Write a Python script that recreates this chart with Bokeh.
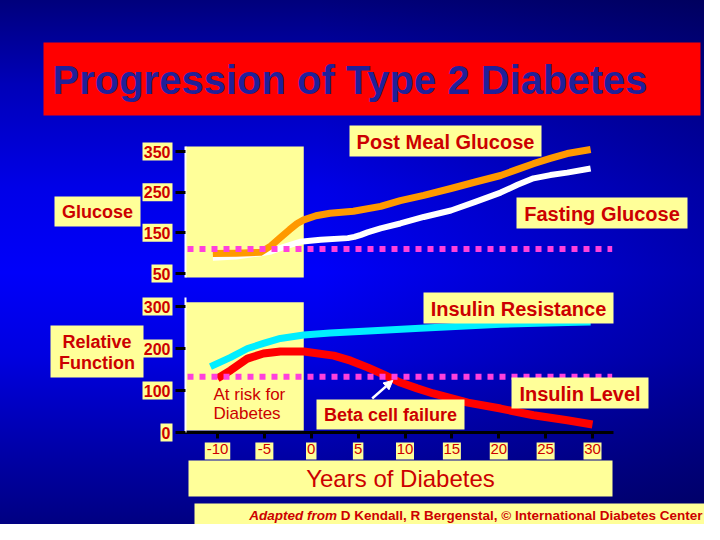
from bokeh.plotting import figure
from bokeh.layouts import column
from bokeh.models import (Range1d, FixedTicker, Label, BoxAnnotation, Arrow, NormalHead,
                          LinearAxis)
from bokeh.embed import file_html
from bokeh.resources import INLINE

# ------------------------------------------------------------------ data
year_ticks = [-10, -5, 0, 5, 10, 15, 20, 25, 30]
glucose_ticks = [50, 150, 250, 350]
function_ticks = [0, 100, 200, 300]

post_meal_years = [-10.5, -8.0, -5.4, -4.3, -3.3, -2.3, -1.5, -0.8, 0.5, 2.0, 4.5, 7.4,
                   9.5, 12.0, 14.9, 17.5, 20.2, 22.0, 23.7, 25.5, 27.3, 29.8]
post_meal_glucose = [99, 100, 102, 118, 138, 158, 173, 182, 192, 198, 203, 215,
                     229, 242, 259, 275, 291, 306, 320, 333, 345, 355]

fasting_years = [-10.5, -8.0, -5.4, -4.3, -3.0, -1.2, 1.0, 3.9, 4.6, 5.3, 6.0, 7.4, 9.5,
                 12.0, 14.9, 17.5, 20.2, 22.0, 23.7, 25.5, 27.3, 29.8]
fasting_glucose = [89, 92, 100, 104, 115, 128, 133, 137, 140, 145, 151, 161, 173,
                   189, 205, 226, 249, 268, 284, 292, 298, 308]

resistance_years = [-10.75, -8.6, -6.8, -5.1, -3.3, -0.8, 2.0, 5.6, 11.6, 20.2, 27.3, 29.8]
insulin_resistance = [157, 179, 200, 212, 224, 232, 237, 241, 248, 258, 262, 263]

insulin_years = [-10.0, -8.6, -6.8, -5.1, -3.3, -0.8, 2.4, 4.2, 6.0, 7.8, 9.5, 11.3,
                 13.0, 16.7, 20.2, 23.7, 27.3, 30.0]
insulin_level = [129, 148, 176, 188, 193, 193, 183, 171, 155, 137, 119, 105,
                 93, 71, 57, 41, 29, 19]

normal_span_years = [-13.2, 32.1]
normal_glucose = [110, 110]
normal_function = [133, 133]

at_risk_years = [-13.4, -0.8]
at_risk_function = [5, 310]

beta_arrow_years = [6.5, 8.7]
beta_arrow_function = [81, 124]

# ------------------------------------------------------------------ styles / layout
YELLOW = "#ffff99"
RED_TEXT = "#cc0000"
FONT = "Liberation Sans"
W, H = 704, 524

X_PX = 375 / 40.0            # px per year
X0 = -10 - 217 / X_PX
X1 = X0 + W / X_PX

G_S = 122 / 300.0            # px per mg/dl
G_Y1 = 350 + 151 / G_S
G_Y0 = 350 - (H - 151) / G_S

R_S = 0.42                   # px per unit of relative function
R_Y1 = 432 / R_S
R_Y0 = (432 - H) / R_S


def px_x(px):
    return X0 + px / X_PX


def g_y(py):
    return 350 - (py - 151) / G_S


def r_y(py):
    return (432 - py) / R_S


p = figure(width=W, height=H, x_range=Range1d(X0, X1), y_range=Range1d(R_Y0, R_Y1),
           output_backend="svg", toolbar_location=None,
           x_axis_location=None, y_axis_location=None,
           min_border=0, min_border_left=0, min_border_right=0,
           min_border_top=0, min_border_bottom=0,
           background_fill_alpha=0, border_fill_alpha=0, outline_line_color=None)
p.extra_y_ranges = {"glucose": Range1d(G_Y0, G_Y1)}
p.grid.visible = False
p.title.visible = False


def style_axis(ax, size, style):
    ax.major_label_text_font = FONT
    ax.major_label_text_font_size = size
    ax.major_label_text_font_style = style
    ax.major_label_text_color = RED_TEXT
    ax.major_tick_line_color = "black"
    ax.major_tick_line_width = 3
    ax.minor_tick_line_color = None
    ax.major_tick_in = 0


def box(x0, y0, x1, y1, color=YELLOW):
    p.add_layout(BoxAnnotation(left=px_x(x0), right=px_x(x1), top=r_y(y0), bottom=r_y(y1),
                               fill_color=color, fill_alpha=1, line_color=None))


def txt(x, y, text, size, style="bold", color=RED_TEXT, align="center"):
    p.add_layout(Label(x=px_x(x), y=r_y(y), text=text, text_font=FONT,
                       text_font_size=f"{size}px", text_font_style=style,
                       text_color=color, text_align=align, text_baseline="middle"))


# ---------------- shaded "at risk" region (both panels)
p.add_layout(BoxAnnotation(left=at_risk_years[0], right=at_risk_years[1],
                           bottom=g_y(277), top=g_y(146), y_range_name="glucose",
                           fill_color=YELLOW, fill_alpha=1, line_color=None, level="underlay"))
p.add_layout(BoxAnnotation(left=at_risk_years[0], right=at_risk_years[1],
                           bottom=at_risk_function[0], top=at_risk_function[1],
                           fill_color=YELLOW, fill_alpha=1, line_color=None, level="underlay"))

# ---------------- tick-label backgrounds
def ylab_boxes(ticks, unit_px, rng=None):
    lefts, rights, tops, bots = [], [], [], []
    for t in ticks:
        w = 9 * len(str(t)) + 3
        lefts.append(px_x(172 - w))
        rights.append(px_x(172))
        tops.append(t + 9 / unit_px)
        bots.append(t - 9 / unit_px)
    kw = dict(y_range_name=rng) if rng else {}
    p.quad(left=lefts, right=rights, top=tops, bottom=bots, fill_color=YELLOW,
           line_color=None, level="underlay", **kw)


ylab_boxes(glucose_ticks, G_S, "glucose")
ylab_boxes(function_ticks, R_S)
p.quad(left=[t - (7.5 * len(str(t)) + 3) / 2 / X_PX for t in year_ticks],
       right=[t + (7.5 * len(str(t)) + 3) / 2 / X_PX for t in year_ticks],
       top=[r_y(442)] * len(year_ticks), bottom=[r_y(459)] * len(year_ticks),
       fill_color=YELLOW, line_color=None, level="underlay")

# ---------------- glucose curves
p.line(fasting_years, fasting_glucose, y_range_name="glucose",
       line_color="white", line_width=6, line_join="round")
p.line(post_meal_years, post_meal_glucose, y_range_name="glucose",
       line_color="#ff9900", line_width=7, line_join="round")
p.line(normal_span_years, normal_glucose, y_range_name="glucose",
       line_color="#ff40dc", line_width=6, line_dash="6 6")

# ---------------- relative function curves
p.line(resistance_years, insulin_resistance, line_color="#00eeff", line_width=7, line_join="round")
p.line(insulin_years, insulin_level, line_color="#ff0000", line_width=8, line_join="round")
p.line(normal_span_years, normal_function, line_color="#ff40dc", line_width=6, line_dash="6 6")
p.add_layout(Arrow(end=NormalHead(size=9, fill_color="white", line_color="white"),
                   x_start=beta_arrow_years[0], y_start=beta_arrow_function[0],
                   x_end=beta_arrow_years[1], y_end=beta_arrow_function[1],
                   line_color="white", line_width=2.5))

# ---------------- axes
gax = LinearAxis(y_range_name="glucose", fixed_location=px_x(185),
                 bounds=(g_y(277), g_y(146)), ticker=FixedTicker(ticks=glucose_ticks),
                 axis_line_color="white", axis_line_width=2,
                 major_tick_out=10, major_label_standoff=5)
style_axis(gax, "16px", "bold")
p.add_layout(gax, "left")

rax = LinearAxis(fixed_location=px_x(185), bounds=(0, r_y(297)),
                 ticker=FixedTicker(ticks=function_ticks),
                 axis_line_color="white", axis_line_width=2,
                 major_tick_out=10, major_label_standoff=5)
style_axis(rax, "16px", "bold")
p.add_layout(rax, "left")

xax = LinearAxis(fixed_location=0, bounds=(px_x(177), px_x(613)),
                 ticker=FixedTicker(ticks=year_ticks),
                 major_label_overrides={t: str(t) for t in year_ticks},
                 axis_line_color="black", axis_line_width=3,
                 major_tick_out=6, major_label_standoff=5)
style_axis(xax, "15px", "normal")
p.add_layout(xax, "below")

# ---------------- text boxes
box(43, 42, 700, 115, color="#ff0000")
txt(52, 79, "Progression of Type 2 Diabetes", 40, color="#20209a", align="left")
box(54, 196, 140, 226)
txt(97, 211, "Glucose", 18)
box(349, 125, 541, 156)
txt(445, 141, "Post Meal Glucose", 20)
box(516, 197, 687, 228)
txt(601.5, 213, "Fasting Glucose", 20)
box(50, 325, 143, 377)
txt(96.5, 341, "Relative", 18)
txt(96.5, 362, "Function", 18)
box(423, 292, 613, 323)
txt(518, 308, "Insulin Resistance", 20)
box(511, 377, 648, 408)
txt(579.5, 393, "Insulin Level", 20)
box(316, 399, 464, 429)
txt(390, 414, "Beta cell failure", 18)
txt(213, 394, "At risk for", 17, style="normal", align="left")
txt(213, 413, "Diabetes", 17, style="normal", align="left")
box(188, 460, 612, 496)
txt(400, 478, "Years of Diabetes", 24, style="normal")
box(194, 503, 716, 530)
txt(336.4, 515, "Adapted from", 13.5, style="bold italic", align="right")
txt(702, 515, "D Kendall, R Bergenstal, \u00a9 International Diabetes Center", 13.5, align="right")

bg = ("linear-gradient(90deg, rgba(0,0,0,0) 45%, rgba(0,0,40,0.35) 100%), "
      "linear-gradient(180deg, #00007c 0%, #0000b8 16%, #0000e8 36%, #0000fa 52%, "
      "#0000e0 68%, #0000a8 86%, #000082 100%)")
layout = column(p, spacing=0, styles={"background": bg})

open("out.html", "w").write(file_html(layout, INLINE))
